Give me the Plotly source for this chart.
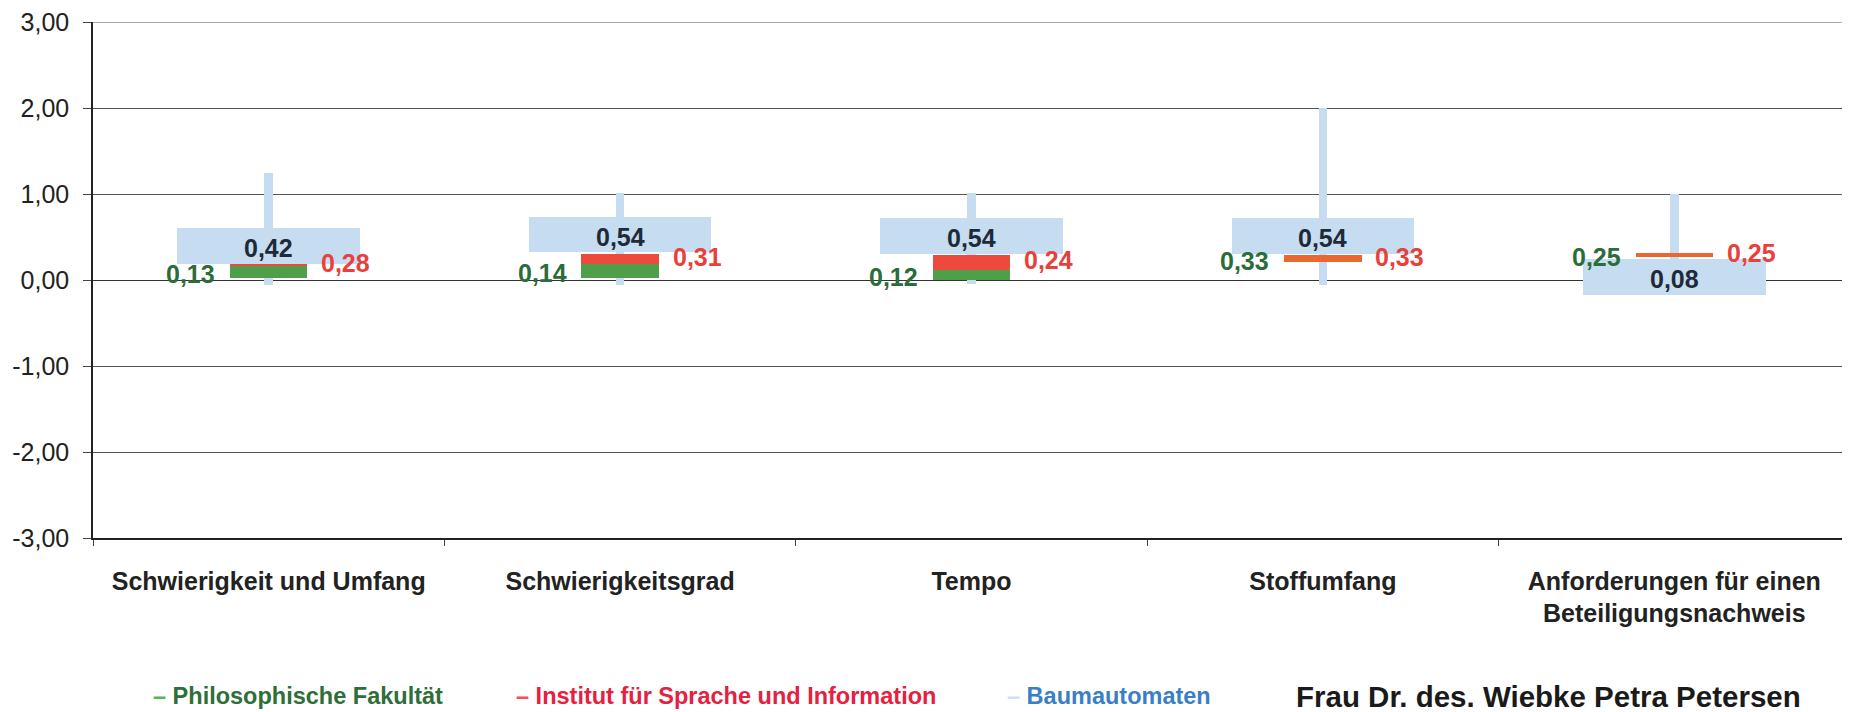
import plotly.graph_objects as go

categories = ["Schwierigkeit und Umfang", "Schwierigkeitsgrad", "Tempo", "Stoffumfang",
              "Anforderungen für einen<br>Beteiligungsnachweis"]

# value labels
phil_values = [0.13, 0.14, 0.12, 0.33, 0.25]
isi_values = [0.28, 0.31, 0.24, 0.33, 0.25]
baum_values = [0.42, 0.54, 0.54, 0.54, 0.08]

# drawn bands (low / high)
green_low = [0.02, 0.02, 0.00, None, None]
green_high = [0.17, 0.19, 0.12, None, None]
red_low = [0.17, 0.19, 0.12, None, None]
red_high = [0.19, 0.30, 0.29, None, None]
overlap_low = [None, None, None, 0.21, 0.27]
overlap_high = [None, None, None, 0.29, 0.31]
box_low = [0.185, 0.32, 0.30, 0.30, -0.17]
box_high = [0.61, 0.73, 0.72, 0.72, 0.24]
whisker_low = [-0.06, -0.06, -0.05, -0.06, -0.10]
whisker_high = [1.25, 1.01, 1.01, 2.00, 1.00]

y_ticks = [-3, -2, -1, 0, 1, 2, 3]

GREEN = "#4F9F4A"
RED = "#EC4A3C"
ORANGE = "#E8682F"
BLUE = "#C6DCF1"
FONT = "Liberation Sans, Arial, sans-serif"


def span(lo, hi):
    return [None if (a is None or b is None) else b - a for a, b in zip(lo, hi)]


def fmt(v):
    return f"{v:.2f}".replace(".", ",")


def mid(lo, hi):
    return (lo + hi) / 2


fig = go.Figure()
for lo, hi, w, col in [(whisker_low, whisker_high, 0.024, BLUE),
                       (box_low, box_high, 0.52, BLUE),
                       (green_low, green_high, 0.22, GREEN),
                       (red_low, red_high, 0.22, RED),
                       (overlap_low, overlap_high, 0.22, ORANGE)]:
    fig.add_trace(go.Bar(x=categories, y=span(lo, hi), base=lo, width=w,
                         marker=dict(color=col, line=dict(width=0)),
                         showlegend=False, hoverinfo="skip"))

annotations = []
for i, cat in enumerate(categories):
    if green_low[i] is not None:
        gy = mid(green_low[i], green_high[i])
        ry = mid(red_low[i], red_high[i])
    else:
        gy = ry = mid(overlap_low[i], overlap_high[i])
    annotations.append(dict(x=cat, y=gy, xref="x", yref="y", text=fmt(phil_values[i]),
                            showarrow=False, xshift=-78, yshift=-2,
                            font=dict(family=FONT, size=25, color="#2C6B3A", weight="bold")))
    annotations.append(dict(x=cat, y=ry, xref="x", yref="y", text=fmt(isi_values[i]),
                            showarrow=False, xshift=77, yshift=2,
                            font=dict(family=FONT, size=25, color="#EA3F3A", weight="bold")))
    annotations.append(dict(x=cat, y=mid(box_low[i], box_high[i]), xref="x", yref="y",
                            text=fmt(baum_values[i]), showarrow=False, yshift=-2,
                            font=dict(family=FONT, size=25, color="#1E2A38", weight="bold")))

legend_items = [
    ("Philosophische Fakultät", "#5DB35A", "#2E6E38", 0.033),
    ("Institut für Sprache und Information", "#F0505A", "#E5213F", 0.2395),
    ("Baumautomaten", "#CFE2F3", "#3A7FC4", 0.519),
]
for name, dash_col, text_col, xpos in legend_items:
    annotations.append(dict(x=xpos, y=-0.307, xref="paper", yref="paper", xanchor="left",
                            yanchor="middle", showarrow=False,
                            text=f"<span style='color:{dash_col}'>–</span> {name}",
                            font=dict(family=FONT, size=23.5, color=text_col, weight="bold")))
annotations.append(dict(x=0.6836, y=-0.307, xref="paper", yref="paper", xanchor="left",
                        yanchor="middle", showarrow=False,
                        text="Frau Dr. des. Wiebke Petra Petersen",
                        font=dict(family=FONT, size=29.5, color="#1A1A1A", weight="bold")))

fig.update_layout(
    width=1842, height=704,
    margin=dict(l=85, r=0, t=12, b=174),
    paper_bgcolor="white", plot_bgcolor="white",
    barmode="overlay", bargap=0,
    annotations=annotations,
    showlegend=False,
    shapes=[dict(type="line", xref="paper", yref="y", x0=0, x1=1, y0=3, y1=3,
                 line=dict(color="#555555", width=1), layer="below")],
)
fig.update_yaxes(range=[-3, 3], tickvals=y_ticks, ticktext=[fmt(v) for v in y_ticks],
                 ticklabeloverflow="allow",
                 showgrid=True, gridcolor="#555555", gridwidth=1,
                 zeroline=True, zerolinecolor="#333333", zerolinewidth=1,
                 showline=True, linecolor="#222222", linewidth=1.5,
                 ticks="outside", ticklen=8, tickcolor="#444444",
                 ticklabelstandoff=9,
                 tickfont=dict(family=FONT, size=25, color="#222222"))
fig.update_xaxes(range=[-0.5, 4.5], showgrid=False, showline=True, linecolor="#222222",
                 linewidth=1.5, ticks="outside", tickson="boundaries", ticklen=6,
                 tickcolor="#444444", ticklabelstandoff=20,
                 tickfont=dict(family=FONT, size=25, color="#222222", weight="bold"))

fig.write_html("out.html")
